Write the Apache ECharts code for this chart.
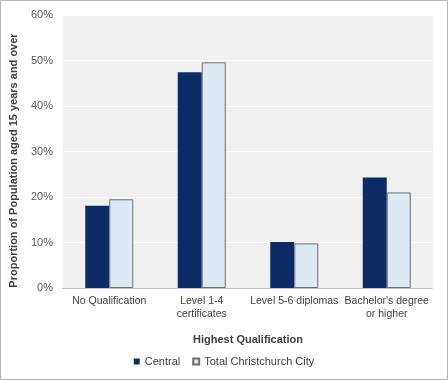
<!DOCTYPE html>
<html><head><meta charset="utf-8">
<script src="https://cdn.jsdelivr.net/npm/echarts@6/dist/echarts.min.js"></script>
<style>html,body{margin:0;padding:0;background:#fff}#c{width:448px;height:380px}</style>
</head><body><div id="c"></div>
<script>
var categories = ["No Qualification", "Level 1-4\ncertificates", "Level 5-6 diplomas", "Bachelor's degree\nor higher"];
var central = [18.1, 47.4, 10.1, 24.3];
var totalChch = [19.5, 49.6, 9.8, 21.0];
var seriesNames = ["Central", "Total Christchurch City"];
var yTicks = [0, 10, 20, 30, 40, 50, 60];

var chart = echarts.init(document.getElementById('c'), null, {renderer: 'canvas'});
var font = 'Liberation Sans, Arial, sans-serif';
chart.setOption({
  animation: false,
  backgroundColor: '#fff',
  textStyle: {fontFamily: font},
  graphic: [{type: 'rect', shape: {x: 0.5, y: 0.5, width: 447, height: 379}, style: {fill: 'none', stroke: '#b3b3b3', lineWidth: 1}, silent: true, z: 100}],
  grid: {left: 63, right: 15, top: 15, bottom: 92, show: true, backgroundColor: '#f0f0f0', borderColor: 'transparent', borderWidth: 0, z: 0},
  legend: {
    data: seriesNames, bottom: 8, left: 'center', icon: 'rect', itemWidth: 6, itemHeight: 6, itemGap: 12,
    textStyle: {fontFamily: font, fontSize: 11, color: '#404040'}
  },
  xAxis: {
    type: 'category', data: categories,
    name: 'Highest Qualification', nameLocation: 'middle', nameGap: 46,
    nameTextStyle: {fontFamily: font, fontSize: 11, fontWeight: 'bold', color: '#404040'},
    axisLine: {show: true, lineStyle: {color: '#b0b0b0', type: 'dotted', width: 1}},
    axisTick: {show: false},
    axisLabel: {fontFamily: font, fontSize: 10.5, color: '#404040', margin: 7, lineHeight: 13, interval: 0},
    splitLine: {show: false}
  },
  yAxis: {
    type: 'value', min: yTicks[0], max: yTicks[yTicks.length - 1], interval: 10,
    name: 'Proportion of Population aged 15 years and over', nameLocation: 'middle', nameGap: 44,
    nameTextStyle: {fontFamily: font, fontSize: 11, fontWeight: 'bold', color: '#404040', padding: [0, 18, 0, 0]},
    axisLine: {show: false}, axisTick: {show: false},
    axisLabel: {fontFamily: font, fontSize: 11, color: '#595959', margin: 10, formatter: '{value}%'},
    splitLine: {show: true, lineStyle: {color: '#ffffff', width: 1}}
  },
  series: [
    {name: seriesNames[0], type: 'bar', data: central, barWidth: 24, barGap: '0%',
     itemStyle: {color: '#0b2c66', borderColor: '#0b2c66', borderWidth: 0}},
    {name: seriesNames[1], type: 'bar', data: totalChch, barWidth: 24, barGap: '0%',
     itemStyle: {color: '#dde9f4', borderColor: '#6f6f6f', borderWidth: 1}}
  ]
});
</script></body></html>
